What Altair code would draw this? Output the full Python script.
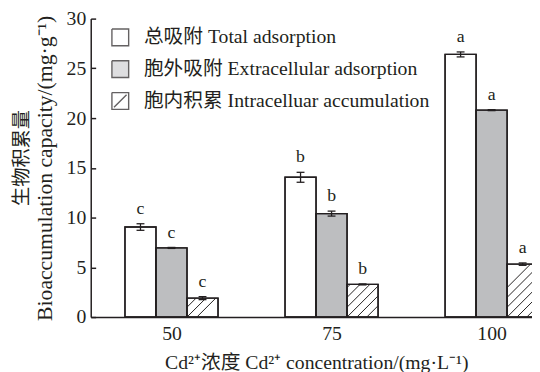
import altair as alt
import pandas as pd

# ---------------- data ----------------
concentrations = ["50", "75", "100"]
series_names = [
    "总吸附 Total adsorption",
    "胞外吸附 Extracellular adsorption",
    "胞内积累 Intracelluar accumulation",
]
total_mean = [9.05, 14.05, 26.4]
total_err = [0.33, 0.5, 0.25]
extra_mean = [6.95, 10.4, 20.8]
extra_err = [0.05, 0.25, 0.05]
intra_mean = [1.9, 3.28, 5.32]
intra_err = [0.15, 0.05, 0.12]
total_letters = ["c", "b", "a"]
extra_letters = ["c", "b", "a"]
intra_letters = ["c", "b", "a"]

y_title_cn = "生物积累量"
y_title_en = "Bioaccumulation capacity/(mg·g⁻¹)"
x_title = "Cd²⁺浓度 Cd²⁺ concentration/(mg·L⁻¹)"

# ---------------- style / layout ----------------
FONT = "Liberation Serif, Noto Sans CJK SC"
INK = "#231f20"
GRAY = "#bdbec0"
PLOT_W = 448
PLOT_H = 303
X_DOMAIN = [-0.5046, 2.2523]
BAR_W = 0.1938
Y_MAX = 30
PX_X = PLOT_W / (X_DOMAIN[1] - X_DOMAIN[0])
PX_Y = PLOT_H / Y_MAX
HATCH_STEP = 10.0
CAP_HALF = 4.0 / PX_X

SQ = "M-1,-1L1,-1L1,1L-1,1L-1,-1"
SQ_DIAG = "M-1,-1L1,-1L1,1L-1,1L-1,-1M-0.75,0.75L0.75,-0.75"

# ---------------- build tables ----------------
groups = [
    (total_mean, total_err, total_letters),
    (extra_mean, extra_err, extra_letters),
    (intra_mean, intra_err, intra_letters),
]
rows = []
for gi in range(len(concentrations)):
    for si, (means, errs, lets) in enumerate(groups):
        left = gi + (si - 1.5) * BAR_W
        xc = left + BAR_W / 2
        v = means[gi]
        rows.append(dict(
            series=series_names[si], order=si,
            x=left, x2=left + BAR_W, xc=xc,
            cl=xc - CAP_HALF, cr=xc + CAP_HALF,
            v=v, half=v / 2, lo=v - errs[gi], hi=v + errs[gi],
            letter=lets[gi],
        ))
df = pd.DataFrame(rows)

hatch = []
for r in rows:
    if r["order"] != 2:
        continue
    W = BAR_W * PX_X
    H = r["v"] * PX_Y
    k = -int(H // HATCH_STEP) * HATCH_STEP
    while k < W:
        p0 = max(0.0, -k)
        p1 = min(W, H - k)
        if p1 - p0 > 1.5:
            hatch.append(dict(
                hx=r["x"] + p0 / PX_X, hx2=r["x"] + p1 / PX_X,
                hy=(p0 + k) / PX_Y, hy2=(p1 + k) / PX_Y,
            ))
        k += HATCH_STEP
hdf = pd.DataFrame(hatch)

label_expr = "[" + ",".join("'%s'" % c for c in concentrations) + "][datum.value]"

x_scale = alt.Scale(domain=X_DOMAIN, nice=False, zero=False)
y_scale = alt.Scale(domain=[0, Y_MAX], nice=False)

x_axis = alt.Axis(
    values=[0, 1, 2], labelExpr=label_expr, ticks=False, grid=False,
    domainColor=INK, domainWidth=1.5,
    labelFont=FONT, labelFontSize=20, labelColor=INK, labelPadding=7,
    title=x_title,
    titleFont=FONT, titleFontSize=20, titleColor=INK, titleFontWeight="normal",
    titleX=229, titleY=46, titleBaseline="middle",
)
y_axis = alt.Axis(
    values=list(range(0, 31, 5)), grid=False,
    tickSize={"expr": "-5"}, tickColor=INK, tickWidth=1.5,
    domainColor=INK, domainWidth=1.5,
    labelFont=FONT, labelFontSize=20, labelColor=INK, labelPadding=10,
    title=y_title_en,
    titleFont=FONT, titleFontSize=22, titleColor=INK, titleFontWeight="normal",
    titleX=-47, titleBaseline="middle", titleAngle=270,
)

fill_scale = alt.Scale(domain=series_names, range=["white", GRAY, "white"])
shape_scale = alt.Scale(domain=series_names, range=[SQ, SQ, SQ_DIAG])
stroke_scale = alt.Scale(domain=series_names, range=[INK, INK, INK])
legend = alt.Legend(
    title=None, orient="none", legendX=20, legendY=9,
    symbolSize=289, symbolStrokeWidth=1.4,
    labelFont=FONT, labelFontSize=20, labelColor=INK, labelOffset=14,
    labelLimit=500, rowPadding=8.3,
)

base = alt.Chart(df)

legend_pts = base.mark_point(filled=True, strokeWidth=1.4).encode(
    x=alt.X("xc:Q", scale=x_scale, axis=x_axis),
    y=alt.Y("half:Q", scale=y_scale, axis=y_axis),
    fill=alt.Fill("series:N", scale=fill_scale, legend=legend, sort=series_names),
    shape=alt.Shape("series:N", scale=shape_scale, legend=legend, sort=series_names),
    stroke=alt.Stroke("series:N", scale=stroke_scale, legend=legend, sort=series_names),
)

bars = base.mark_rect(clip=True, stroke=INK, strokeWidth=1.4).encode(
    x="x:Q", x2="x2:Q", y="v:Q", y2=alt.datum(0),
    fill=alt.Fill("series:N", scale=fill_scale, legend=None, sort=series_names),
)

hatch_lines = alt.Chart(hdf).mark_rule(clip=True, stroke=INK, strokeWidth=1).encode(
    x="hx:Q", x2="hx2:Q", y="hy:Q", y2="hy2:Q",
)

outlines = base.mark_rect(clip=True, fillOpacity=0, stroke=INK, strokeWidth=1.4).encode(
    x="x:Q", x2="x2:Q", y="v:Q", y2=alt.datum(0),
)

err_v = base.mark_rule(stroke=INK, strokeWidth=1.3).encode(x="xc:Q", y="lo:Q", y2="hi:Q")
cap_lo = base.mark_rule(stroke=INK, strokeWidth=1.3).encode(x="cl:Q", x2="cr:Q", y="lo:Q")
cap_hi = base.mark_rule(stroke=INK, strokeWidth=1.3).encode(x="cl:Q", x2="cr:Q", y="hi:Q")

letters = base.mark_text(
    font=FONT, fontSize=18, color=INK, baseline="alphabetic", dy=-10,
).encode(x="xc:Q", y="hi:Q", text="letter:N")

chart = alt.layer(
    legend_pts, bars, hatch_lines, outlines, err_v, cap_lo, cap_hi, letters
).properties(
    width=PLOT_W, height=PLOT_H,
    title=alt.TitleParams(
        text=y_title_cn, orient="left", anchor="middle", offset=1, dx=10,
        font=FONT, fontSize=19.5, color=INK, fontWeight="normal",
    ),
    autosize=alt.AutoSizeParams(type="none"),
    padding={"left": 84, "top": 8, "right": 0, "bottom": 53},
).configure_view(stroke=None)

chart.save("out.html", embed_options={"renderer": "svg", "actions": False})
